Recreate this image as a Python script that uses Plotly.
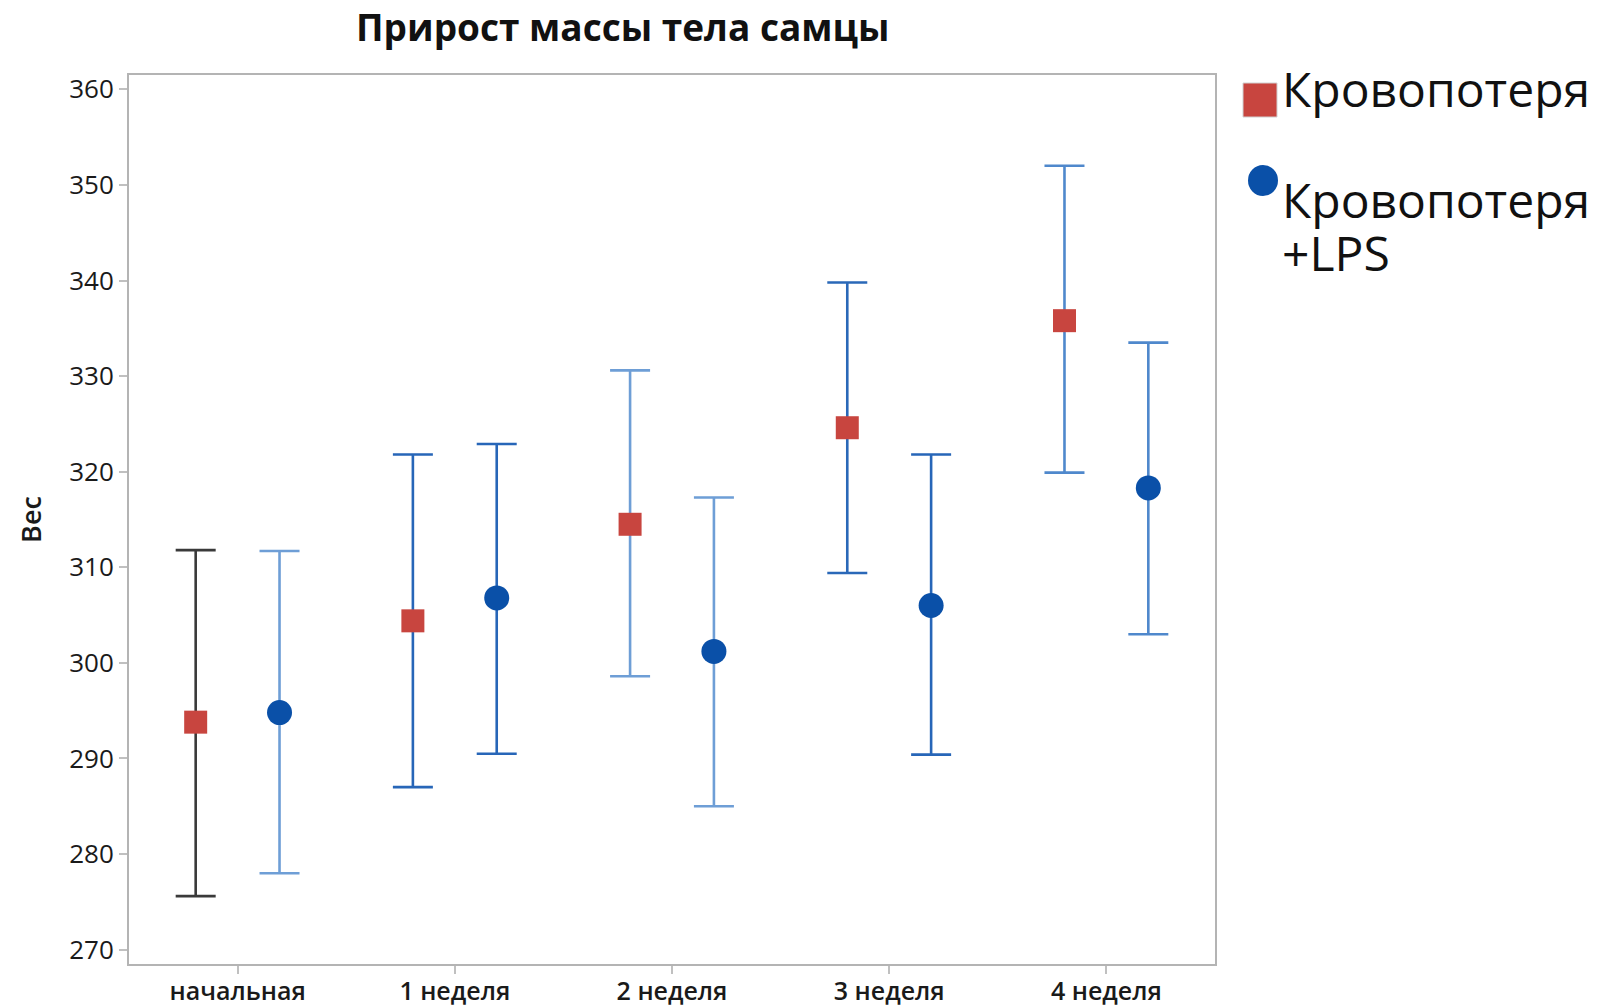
import plotly.graph_objects as go

# Data: mean body weight with interval bounds per time point
periods = ["начальная", "1 неделя", "2 неделя", "3 неделя", "4 неделя"]

blood_loss_mean = [293.8, 304.4, 314.5, 324.6, 335.8]
blood_loss_upper = [311.8, 321.8, 330.6, 339.8, 352.0]
blood_loss_lower = [275.6, 287.0, 298.6, 309.4, 319.9]

lps_mean = [294.8, 306.8, 301.2, 306.0, 318.3]
lps_upper = [311.7, 322.9, 317.3, 321.8, 333.5]
lps_lower = [278.0, 290.5, 285.0, 290.4, 303.0]

y_ticks = [270, 280, 290, 300, 310, 320, 330, 340, 350, 360]

# Styling
RED = "#c8453f"
BLUE = "#0a50a8"
bar_colors_red = ["#3a3a3a", "#2766b8", "#6e9ed6", "#2a68b8", "#4f88cc"]
bar_colors_blue = ["#6e9ed6", "#2766b8", "#6e9ed6", "#2766b8", "#4f88cc"]
OFFSET = 0.193

W, H = 1599, 1006
L, R, T, B = 129, 384, 75, 42
PW, PH = W - L - R, H - T - B

fig = go.Figure()


def add_group(means, uppers, lowers, colors, dx, symbol, mcolor, msize):
    for i, (m, u, lo) in enumerate(zip(means, uppers, lowers)):
        fig.add_trace(go.Scatter(
            x=[i + dx], y=[m], mode="markers",
            marker=dict(symbol=symbol, color=mcolor, size=msize, line=dict(width=0)),
            error_y=dict(type="data", symmetric=False, array=[u - m], arrayminus=[m - lo],
                         color=colors[i], thickness=2.6, width=20),
            showlegend=False, hoverinfo="y",
        ))


add_group(blood_loss_mean, blood_loss_upper, blood_loss_lower, bar_colors_red,
          -OFFSET, "square", RED, 23)
add_group(lps_mean, lps_upper, lps_lower, bar_colors_blue,
          OFFSET, "circle", BLUE, 25)


def px_x(p):
    return (p - L) / PW


def px_y(p):
    return (H - B - p) / PH


axis_line = "#b4b4b4"
fig.update_layout(
    width=W, height=H,
    margin=dict(l=L, r=R, t=T, b=B),
    paper_bgcolor="white", plot_bgcolor="white",
    font=dict(family="Open Sans, sans-serif", color="#1a1a1a"),
    showlegend=False,
    xaxis=dict(
        range=[-0.5, 4.5], tickvals=list(range(len(periods))), ticktext=periods,
        showgrid=False, zeroline=False, showline=True, linecolor=axis_line, linewidth=2,
        mirror=True, ticks="outside", ticklen=8, tickcolor="#c0c0c0", tickwidth=2,
        tickfont=dict(size=25, weight=600, color="#1a1a1a"), automargin=False,
        ticklabelstandoff=-4,
    ),
    yaxis=dict(
        range=[268.5, 361.5], tickvals=y_ticks,
        showgrid=False, zeroline=False, showline=True, linecolor=axis_line, linewidth=2,
        mirror=True, ticks="outside", ticklen=8, tickcolor="#c0c0c0", tickwidth=2,
        tickfont=dict(size=26, color="#1a1a1a"), automargin=False,
        title=dict(text="Вес", font=dict(size=27, weight=600), standoff=20),
    ),
)

# Legend text: the wrapped entry uses a smaller base size so its two lines sit close together
BIG = "<span style='font-size:48px'>{}</span>"
annotations = [
    dict(text="<b>Прирост массы тела самцы</b>", x=px_x(622), y=px_y(26),
         font=dict(size=37, color="#111")),
    dict(text="Кровопотеря", x=px_x(1280), y=px_y(88), xanchor="left",
         font=dict(size=48, color="#111")),
    dict(text=BIG.format("Кровопотеря") + "<br>" + BIG.format("+LPS"),
         x=px_x(1280), y=px_y(226), xanchor="left", align="left",
         font=dict(size=41, color="#111")),
]
for a in annotations:
    a.update(xref="paper", yref="paper", showarrow=False, yanchor="middle",
             xanchor=a.get("xanchor", "center"))
fig.update_layout(annotations=annotations)

# Legend keys
fig.add_shape(type="rect", xref="paper", yref="paper",
              x0=px_x(1243), x1=px_x(1277), y0=px_y(117), y1=px_y(83),
              fillcolor=RED, line=dict(color="#d0d0d0", width=1))
fig.add_shape(type="circle", xref="paper", yref="paper",
              x0=px_x(1248), x1=px_x(1278), y0=px_y(196), y1=px_y(165),
              fillcolor=BLUE, line=dict(width=0))

fig.write_html("out.html")
